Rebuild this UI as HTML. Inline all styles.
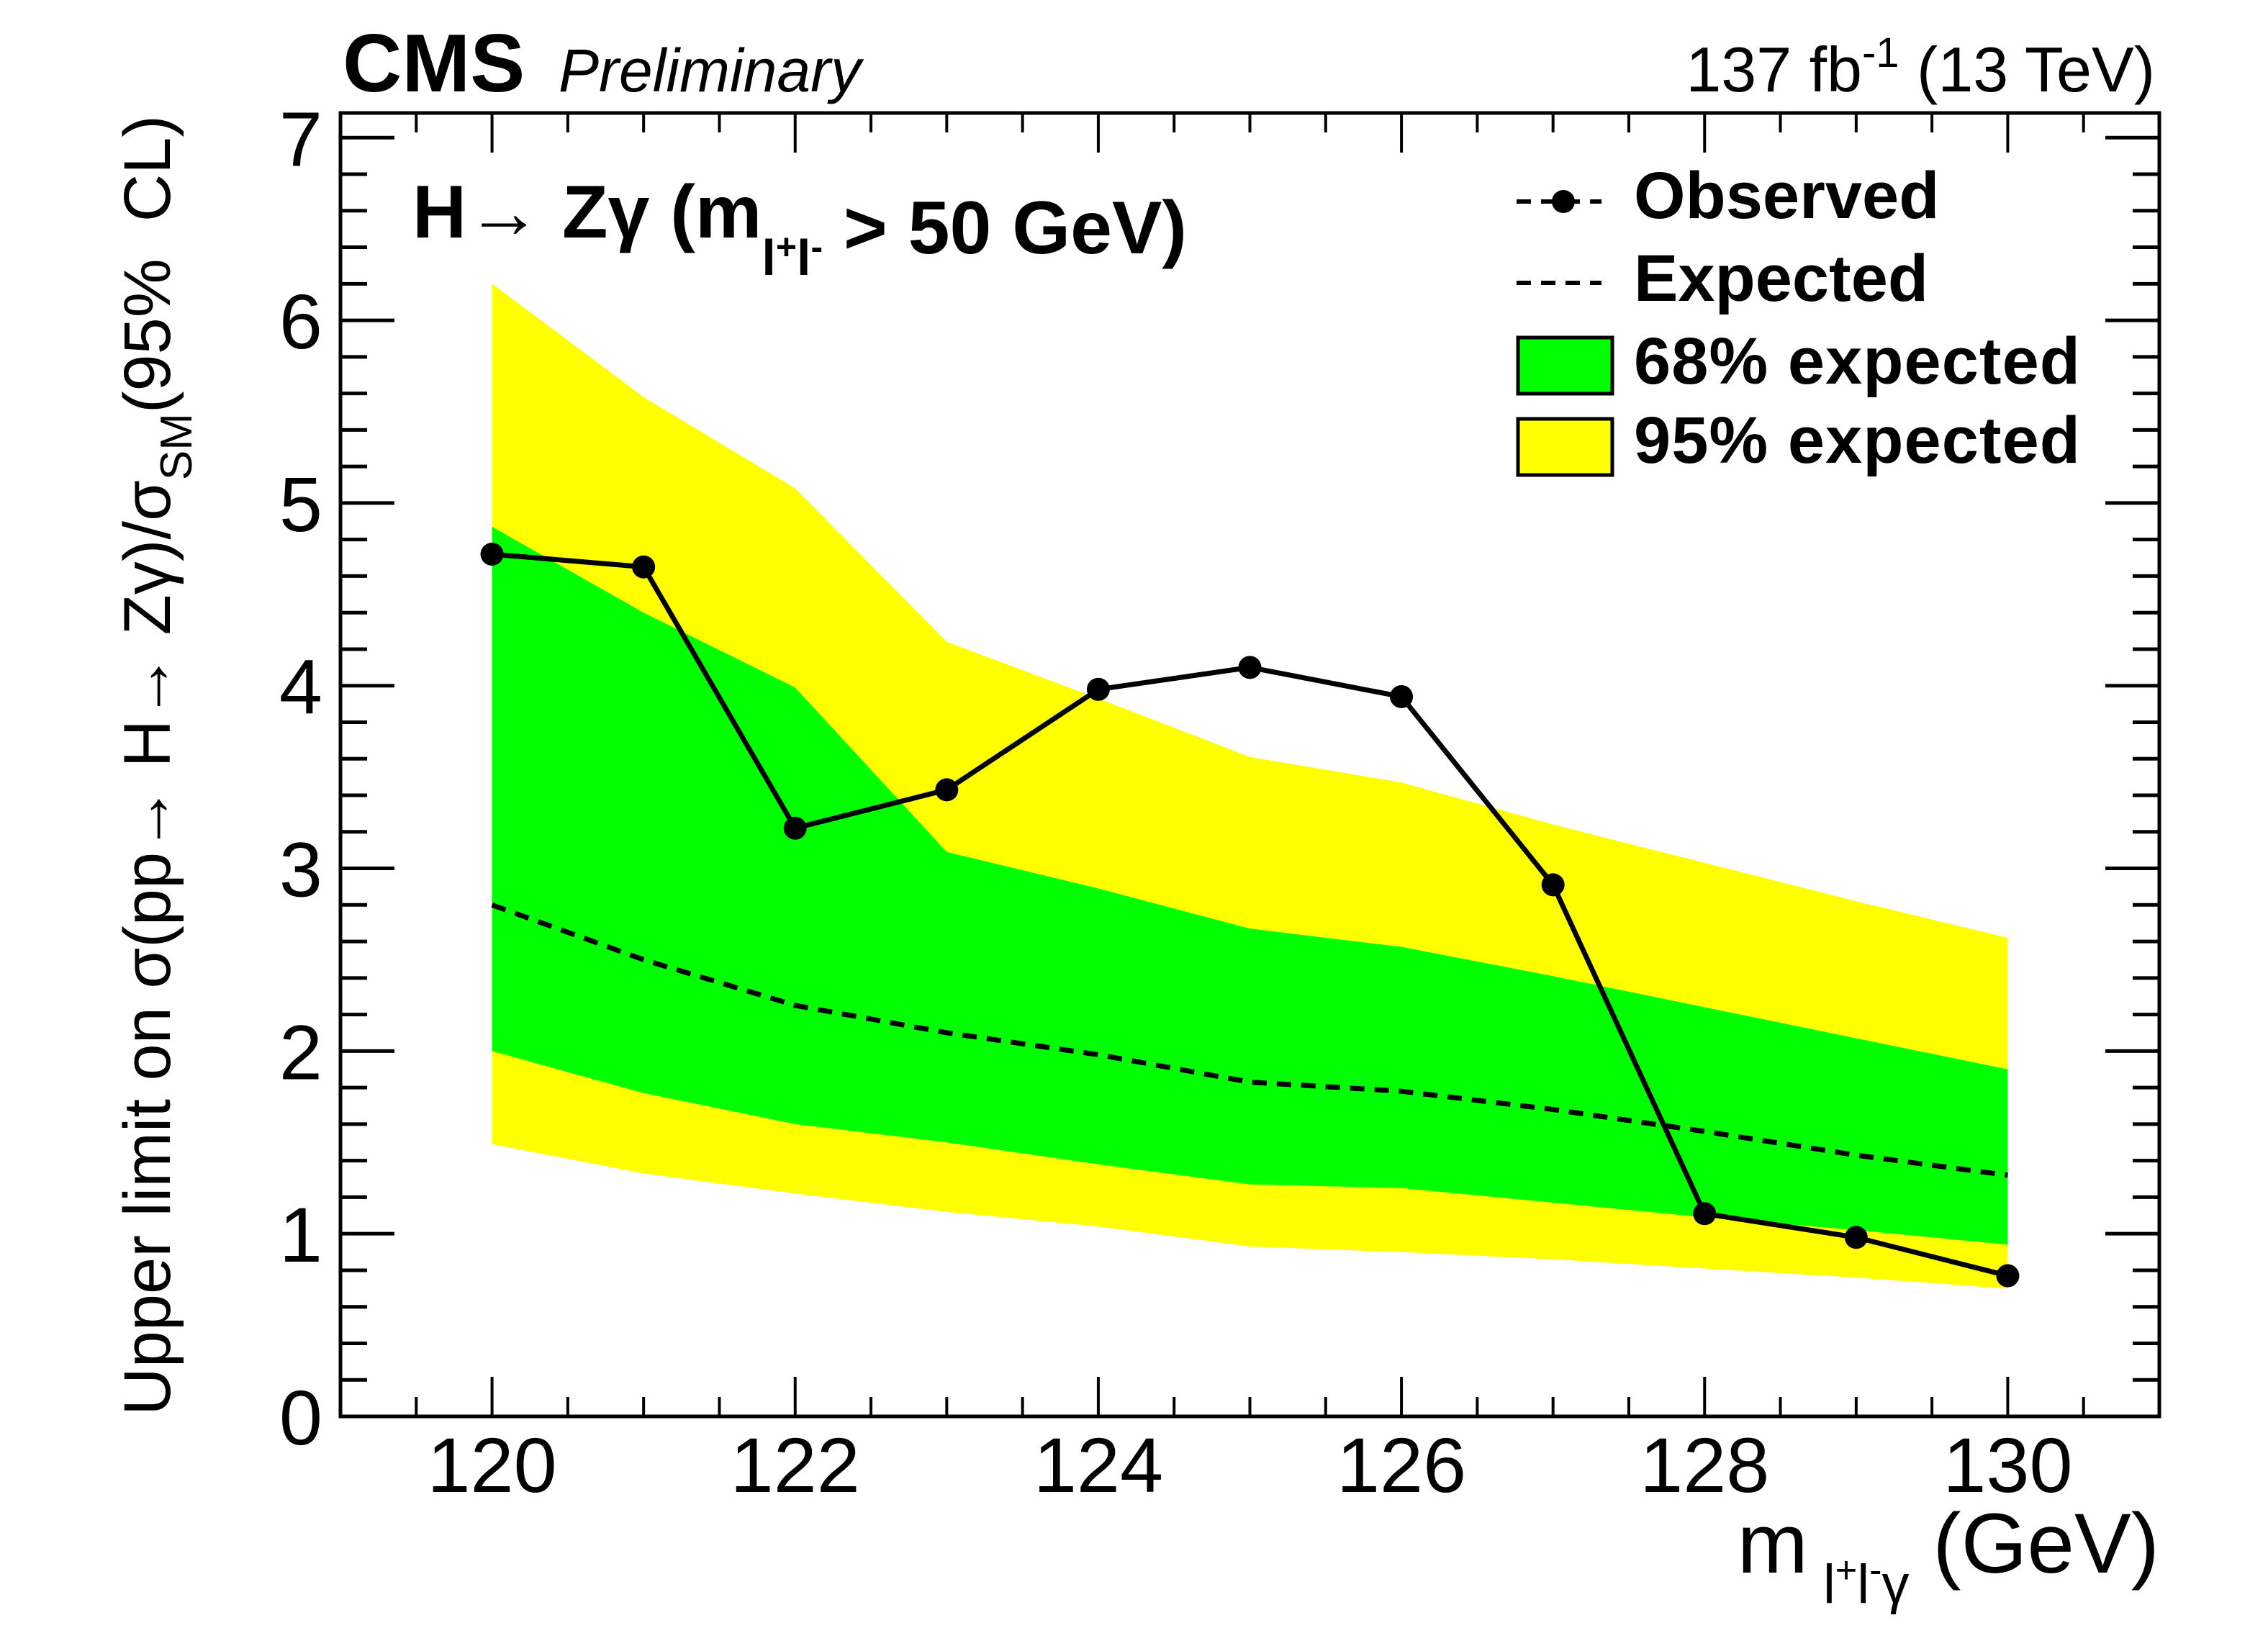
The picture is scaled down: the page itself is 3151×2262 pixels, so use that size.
<!DOCTYPE html>
<html><head><meta charset="utf-8"><style>
html,body{margin:0;padding:0;background:#fff;}
svg{display:block;}
text{font-family:"Liberation Sans",sans-serif;fill:#000;}
</style></head><body>
<svg id="chart" width="3151" height="2262" viewBox="0 0 3151 2262" xmlns="http://www.w3.org/2000/svg">
<g id="bands"></g>
<g id="lines"></g>
<g id="axes"></g>
<text x="476" y="127" font-size="114" font-weight="bold">CMS</text>
<text x="776" y="127" font-size="84" font-style="italic">Preliminary</text>
<text x="2994" y="127" font-size="88" text-anchor="end">137 fb<tspan dy="-34" font-size="58">-1</tspan><tspan dy="34"> (13 TeV)</tspan></text>
<text x="573" y="330" font-size="104" font-weight="bold">H→ Zγ (m<tspan dy="52" font-size="70">l</tspan><tspan dy="-22" font-size="50">+</tspan><tspan dy="22" font-size="70">l</tspan><tspan dy="-22" font-size="50">-</tspan><tspan dy="-8"> &gt; 50 GeV)</tspan></text>
<text transform="translate(236,160) rotate(-90)" font-size="92" text-anchor="end" style="white-space:pre">Upper limit on σ(pp→ H→ Zγ)/σ<tspan dy="30" font-size="62">SM</tspan><tspan dy="-30">(95%  CL)</tspan></text>
<text x="3000" y="2185" font-size="118" text-anchor="end">m<tspan dy="42" font-size="76"> l</tspan><tspan dy="-28" font-size="52">+</tspan><tspan dy="28" font-size="76">l</tspan><tspan dy="-28" font-size="52">-</tspan><tspan dy="28" font-size="76">γ</tspan><tspan dy="-42"> (GeV)</tspan></text>
<g>
<line x1="2107" y1="280" x2="2225" y2="280" stroke="#000" stroke-width="6" stroke-dasharray="20,14"/>
<circle cx="2172" cy="280" r="16" fill="#000"/>
<text x="2270" y="303" font-size="92" font-weight="bold">Observed</text>
<line x1="2107" y1="393" x2="2225" y2="393" stroke="#000" stroke-width="6" stroke-dasharray="20,14"/>
<text x="2270" y="418" font-size="92" font-weight="bold">Expected</text>
<rect x="2109" y="469" width="131" height="78" fill="#00ff00" stroke="#000" stroke-width="5"/>
<text x="2270" y="533" font-size="92" font-weight="bold" textLength="620">68% expected</text>
<rect x="2109" y="582" width="131" height="78" fill="#ffff00" stroke="#000" stroke-width="5"/>
<text x="2270" y="643" font-size="92" font-weight="bold" textLength="620">95% expected</text>
</g>
</svg>
<script>
const masses = [120,121,122,123,124,125,126,127,128,129,130];
const observed = [4.72,4.65,3.22,3.43,3.98,4.10,3.94,2.91,1.11,0.98,0.77];
const expected = [2.80,2.50,2.25,2.10,1.98,1.83,1.78,1.68,1.56,1.43,1.32];
const up95 = [6.20,5.58,5.08,4.24,3.93,3.61,3.47,3.24,3.03,2.82,2.62];
const up68 = [4.87,4.40,3.99,3.09,2.89,2.67,2.57,2.41,2.24,2.07,1.90];
const down68 = [2.00,1.77,1.60,1.50,1.38,1.27,1.25,1.17,1.09,1.02,0.94];
const down95 = [1.49,1.33,1.22,1.12,1.04,0.93,0.90,0.86,0.81,0.76,0.70];
const xTicks = ['120','122','124','126','128','130'];
const yTicks = ['0','1','2','3','4','5','6','7'];

const L=473,R=3000,T=157,B=1968,XMIN=119,XMAX=131,YMIN=0,YMAX=7.135;
const NS='http://www.w3.org/2000/svg';
function sx(v){return L+(v-XMIN)/(XMAX-XMIN)*(R-L);}
function sy(v){return B-(v-YMIN)/(YMAX-YMIN)*(B-T);}
function mk(tag,attrs,parent){const e=document.createElementNS(NS,tag);for(const k in attrs)e.setAttribute(k,attrs[k]);parent.appendChild(e);return e;}
const bands=document.getElementById('bands'),lines=document.getElementById('lines'),axes=document.getElementById('axes');
function band(up,down,color,name){
  let pts=masses.map((m,i)=>sx(m)+','+sy(up[i]));
  for(let i=masses.length-1;i>=0;i--)pts.push(sx(masses[i])+','+sy(down[i]));
  const p=mk('polygon',{points:pts.join(' '),fill:color},bands);
  
  
}
band(up95,down95,'#ffff00','band-95');
band(up68,down68,'#00ff00','band-68');
const ex=mk('polyline',{points:masses.map((m,i)=>sx(m)+','+sy(expected[i])).join(' '),fill:'none',stroke:'#000','stroke-width':7,'stroke-dasharray':'20,14'},lines);


const ob=mk('polyline',{points:masses.map((m,i)=>sx(m)+','+sy(observed[i])).join(' '),fill:'none',stroke:'#000','stroke-width':7},lines);


masses.forEach((m,i)=>{
  const c=mk('circle',{cx:sx(m),cy:sy(observed[i]),r:16,fill:'#000'},lines);
  
  
});
const fr=mk('rect',{x:L,y:T,width:R-L,height:B-T,fill:'none',stroke:'#000','stroke-width':5},axes);


for(let v=119.5;v<=130.51;v+=0.5){
  const major=Math.abs(v-Math.round(v))<1e-6 && Math.round(v)%2===0;
  const len=major?55:27;
  const x=sx(v);
  const t1=mk('line',{x1:x,y1:B,x2:x,y2:B-len,stroke:'#000','stroke-width':4},axes);
  
  
  const t2=mk('line',{x1:x,y1:T,x2:x,y2:T+len,stroke:'#000','stroke-width':4},axes);
  
  
}
xTicks.forEach(s=>{
  const t=mk('text',{x:sx(parseFloat(s)),y:2073,'font-size':108,'text-anchor':'middle'},axes);
  t.textContent=s;
  
  
});
for(let k=0;k<=35;k++){
  const v=k*0.2;
  if(v>YMAX)break;
  const major=k%5===0;
  const len=major?75:37;
  const y=sy(v);
  const t1=mk('line',{x1:L,y1:y,x2:L+len,y2:y,stroke:'#000','stroke-width':5},axes);
  
  
  const t2=mk('line',{x1:R,y1:y,x2:R-len,y2:y,stroke:'#000','stroke-width':5},axes);
  
  
}
yTicks.forEach(s=>{
  const t=mk('text',{x:448,y:sy(parseFloat(s))+39,'font-size':108,'text-anchor':'end'},axes);
  t.textContent=s;
  
  
});
</script>
</body></html>
